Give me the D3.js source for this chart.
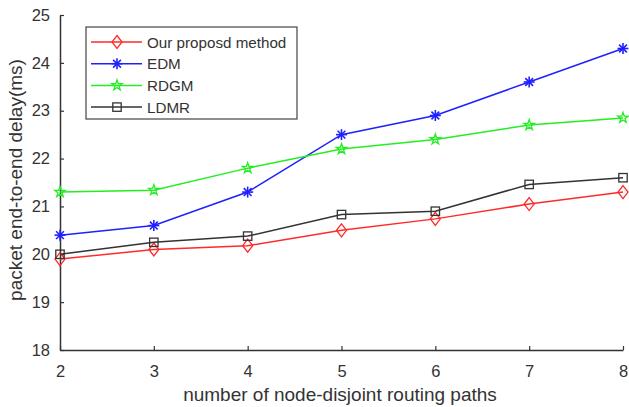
<!DOCTYPE html>
<html>
<head>
<meta charset="utf-8">
<script src="https://cdnjs.cloudflare.com/ajax/libs/d3/7.8.5/d3.min.js"></script>
<style>
  html, body { margin: 0; padding: 0; background: #fff; }
  svg { display: block; }
  text { font-family: "Liberation Sans", Arial, sans-serif; fill: #333; }
</style>
</head>
<body>
<svg id="chart" width="629" height="407"></svg>
<script>
// Number of node-disjoint routing paths
const paths = [2, 3, 4, 5, 6, 7, 8];
// Packet end-to-end delay (ms) per method
const ours = [19.9, 20.1, 20.18, 20.5, 20.74, 21.05, 21.3];
const edm  = [20.4, 20.6, 21.3, 22.5, 22.9, 23.6, 24.3];
const rdgm = [21.3, 21.34, 21.8, 22.2, 22.4, 22.7, 22.85];
const ldmr = [20.0, 20.25, 20.38, 20.83, 20.9, 21.46, 21.6];
const yTicks = [18, 19, 20, 21, 22, 23, 24, 25];
const seriesNames = ["Our proposd method", "EDM", "RDGM", "LDMR"];

const series = [
  { name: seriesNames[0], values: ours, color: "#ff2a2a", marker: "diamond" },
  { name: seriesNames[1], values: edm,  color: "#2020ff", marker: "asterisk" },
  { name: seriesNames[2], values: rdgm, color: "#22ee22", marker: "star" },
  { name: seriesNames[3], values: ldmr, color: "#333333", marker: "square" }
];

const svg = d3.select("#chart");
const x = d3.scaleLinear().domain([2, 8]).range([60, 623]);
const y = d3.scaleLinear().domain([18, 25]).range([350, 15]);

// Axes: ticks point inward
const xAxis = svg.append("g").attr("transform", `translate(0,${y(18)})`)
  .call(d3.axisBottom(x).tickValues(paths).tickFormat(d3.format("d")).tickSizeInner(-4).tickSizeOuter(0).tickPadding(15));
const yAxis = svg.append("g").attr("transform", `translate(${x(2)},0)`)
  .call(d3.axisLeft(y).tickValues(yTicks).tickFormat(d3.format("d")).tickSizeInner(-4).tickSizeOuter(0).tickPadding(10));
[xAxis, yAxis].forEach(g => {
  g.select(".domain").attr("stroke", "#333").attr("stroke-width", 1.5);
  g.selectAll(".tick line").attr("stroke", "#333").attr("stroke-width", 1.2);
  g.selectAll(".tick text").attr("font-size", 16.5).attr("fill", "#333");
});

// Axis titles
svg.append("text").attr("x", 340).attr("y", 401).attr("text-anchor", "middle")
  .attr("font-size", 19).text("number of node-disjoint routing paths");
svg.append("text").attr("transform", "translate(22,180) rotate(-90)")
  .attr("text-anchor", "middle").attr("font-size", 19).text("packet end-to-end delay(ms)");

// Marker shapes drawn around (0,0)
function drawMarker(g, type, color) {
  if (type === "diamond") {
    g.append("path").attr("d", "M0,-6.5L5,0L0,6.5L-5,0Z")
      .attr("fill", "none").attr("stroke", color).attr("stroke-width", 1.3);
  } else if (type === "square") {
    g.append("rect").attr("x", -4.2).attr("y", -4.2).attr("width", 8.4).attr("height", 8.4)
      .attr("fill", "none").attr("stroke", color).attr("stroke-width", 1.3);
  } else if (type === "star") {
    g.append("path").attr("d", d3.symbol().type(d3.symbolStar).size(34)())
      .attr("fill", "none").attr("stroke", color).attr("stroke-width", 1.3);
  } else if (type === "asterisk") {
    const r = 5.5;
    [0, 45, 90, 135].forEach(a => {
      const rad = a * Math.PI / 180;
      g.append("line")
        .attr("x1", -r * Math.cos(rad)).attr("y1", -r * Math.sin(rad))
        .attr("x2", r * Math.cos(rad)).attr("y2", r * Math.sin(rad))
        .attr("stroke", color).attr("stroke-width", 1.6);
    });
  }
}

const line = d3.line().x((d, i) => x(paths[i])).y(d => y(d));

series.forEach(s => {
  svg.append("path").datum(s.values).attr("d", line)
    .attr("fill", "none").attr("stroke", s.color).attr("stroke-width", 1.5);
  s.values.forEach((v, i) => {
    const g = svg.append("g").attr("transform", `translate(${x(paths[i])},${y(v)})`);
    drawMarker(g, s.marker, s.color);
  });
});

// Legend
const legend = svg.append("g");
legend.append("rect").attr("x", 86).attr("y", 27).attr("width", 211).attr("height", 92)
  .attr("fill", "#fff").attr("stroke", "#444").attr("stroke-width", 1.2);
series.forEach((s, i) => {
  const ly = 42 + i * 21.7;
  legend.append("line").attr("x1", 91).attr("x2", 142).attr("y1", ly).attr("y2", ly)
    .attr("stroke", s.color).attr("stroke-width", 1.5);
  const g = legend.append("g").attr("transform", `translate(117,${ly})`);
  drawMarker(g, s.marker, s.color);
  legend.append("text").attr("x", 147).attr("y", ly + 5.5).attr("font-size", 15.2)
    .attr("fill", "#333").text(s.name);
});
</script>
</body>
</html>
